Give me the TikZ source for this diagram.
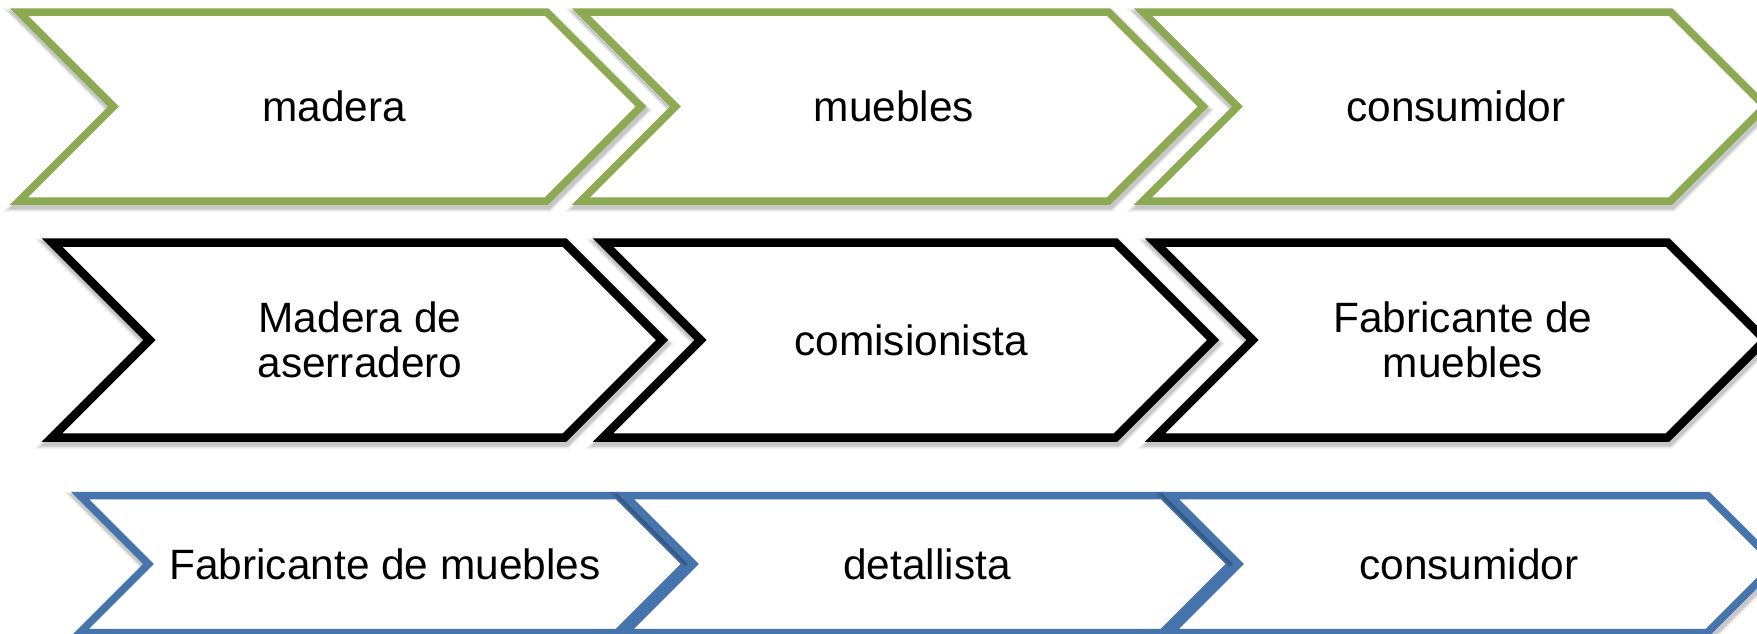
\documentclass[tikz,border=0pt]{standalone}
\usepackage{fontspec}
\setmainfont{Liberation Sans}
\definecolor{chgreen}{RGB}{140,170,82}
\definecolor{chblue}{RGB}{70,116,172}
\newcommand\chevshape[6]{% #1 left, #2 top, #3 bottom, #4 width, #5 colour, #6 line width
  \pgfmathsetmacro\chH{(#3-#2)/2}%
  \pgfmathsetmacro\chM{(#3+#2)/2}%
  \foreach \ww/\oo in {7/0.05,4.5/0.08,2/0.11}{%
    \path[draw=black, opacity=\oo, line width=#6+\ww*0.5pt, line join=miter, xshift=0.5pt, yshift=-1.8pt]
      (#1,#2) -- ({#1+#4-\chH},#2) -- ({#1+#4},\chM) -- ({#1+#4-\chH},#3) -- (#1,#3) -- ({#1+\chH},\chM) -- cycle;
  }%
  \path[draw=#5, fill=white, line width=#6, line join=miter]
    (#1,#2) -- ({#1+#4-\chH},#2) -- ({#1+#4},\chM) -- ({#1+#4-\chH},#3) -- (#1,#3) -- ({#1+\chH},\chM) -- cycle;
}
\tikzset{lbl/.style={align=center, inner sep=0pt, font=\fontsize{21.2}{22.5}\selectfont}}
\begin{document}
\begin{tikzpicture}[x=0.5pt, y=-0.5pt]
\useasboundingbox (0,0) rectangle (1757,633);
\clip (0,0) rectangle (1757,633);
% row 1 (green)
\chevshape{19}{12}{201}{622}{chgreen}{3.75pt}
\chevshape{581}{12}{201}{622}{chgreen}{3.75pt}
\chevshape{1143}{12}{201}{622}{chgreen}{3.75pt}
% row 2 (black)
\chevshape{52}{242.5}{437.5}{610}{black}{4.25pt}
\chevshape{603}{242.5}{437.5}{610}{black}{4.25pt}
\chevshape{1155}{242.5}{437.5}{610}{black}{4.25pt}
% row 3 (blue)
\chevshape{80}{495.5}{632.5}{606}{chblue}{3.75pt}
\chevshape{625}{495.5}{632.5}{606}{chblue}{3.75pt}
\chevshape{1170}{495.5}{632.5}{606}{chblue}{3.75pt}
% labels
\node[lbl] (a1) at (334,106.5) {madera};
\node[lbl] (a2) at (894,106.5) {muebles};
\node[lbl] (a3) at (1456,106.5) {consumidor};
\node[lbl] (b1) at (360,340) {Madera de\\aserradero};
\node[lbl] (b2) at (911,340) {comisionista};
\node[lbl] (b3) at (1463,340) {Fabricante de\\muebles};
\node[lbl] (c1) at (385,564) {Fabricante de muebles};
\node[lbl] (c2) at (927,564) {detallista};
\node[lbl] (c3) at (1469,564) {consumidor};
\end{tikzpicture}
\end{document}
